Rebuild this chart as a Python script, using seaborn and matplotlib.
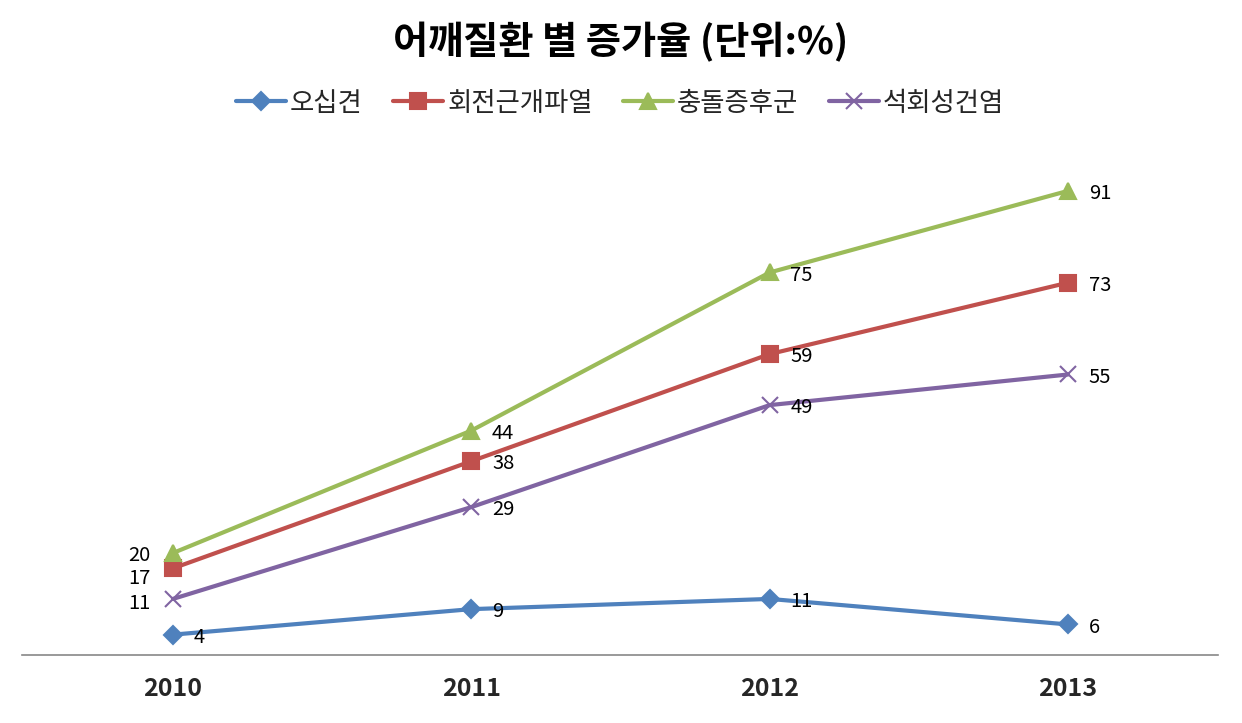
import seaborn as sns
import matplotlib.pyplot as plt
import pandas as pd

years = ['2010', '2011', '2012', '2013']
series_names = ['오십견', '회전근개파열', '충돌증후군', '석회성건염']
frozen = [4, 9, 11, 6]
rotator = [17, 38, 59, 73]
impinge = [20, 44, 75, 91]
calcific = [11, 29, 49, 55]

colors = ['#4F81BD', '#C0504D', '#9BBB59', '#8064A2']
markers = ['D', 's', '^', 'x']
msizes = [9, 11, 12, 12]

sns.set_theme(style='white')
plt.rcParams['font.family'] = ['Noto Sans CJK KR', 'DejaVu Sans']

all_vals = [frozen, rotator, impinge, calcific]

fig = plt.figure(figsize=(12.42, 7.23), dpi=100)
ax = fig.add_axes([0.0177, 0.094, 0.963, 0.7055])

# seaborn can't mix filled and line markers in one call, so one call per series
for name, vals, c, m, ms in zip(series_names, all_vals, colors, markers, msizes):
    d = pd.DataFrame({'x': range(len(years)), 'value': vals})
    sns.lineplot(data=d, x='x', y='value', color=c, marker=m, markersize=ms,
                 markeredgecolor=c, markeredgewidth=1.5, linewidth=3,
                 label=name, ax=ax)

# data labels
left_dy = {'회전근개파열': -7, '충돌증후군': -1.5, '석회성건염': -3}
for name, vals in zip(series_names, all_vals):
    for i, v in enumerate(vals):
        if i == 0 and name != '오십견':
            ax.annotate(str(v), (i, v), xytext=(-16, left_dy[name]), textcoords='offset points',
                        ha='right', va='center', fontsize=14.5, color='black')
        else:
            ax.annotate(str(v), (i, v), xytext=(15, -2), textcoords='offset points',
                        ha='left', va='center', fontsize=14.5, color='black')

ax.set_xlim(-0.506, 3.503)
ax.set_ylim(0, 100)
ax.set_xticks(range(4))
ax.set_xticklabels(years, fontsize=18, fontweight='bold')
ax.tick_params(axis='x', length=0, pad=16)
ax.set_yticks([])
ax.set_xlabel('')
ax.set_ylabel('')
for s in ['top', 'left', 'right']:
    ax.spines[s].set_visible(False)
ax.spines['bottom'].set_color('#888888')
ax.spines['bottom'].set_linewidth(1.2)

handles, labels = ax.get_legend_handles_labels()
ax.legend(handles, labels, loc='center', bbox_to_anchor=(0.5, 1.082), ncol=4,
          frameon=False, fontsize=19, handlelength=1.9, columnspacing=1.15,
          handletextpad=0.15)

fig.text(0.5, 0.942, '어깨질환 별 증가율 (단위:%)', ha='center', va='center',
         fontsize=27.5, fontweight='bold', color='black')

fig.savefig('out.png', dpi=100)
